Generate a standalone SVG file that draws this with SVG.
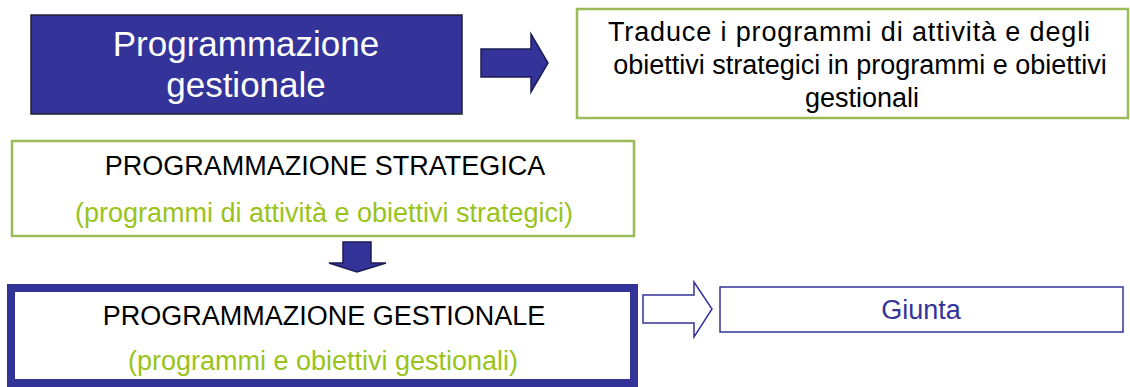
<svg xmlns="http://www.w3.org/2000/svg" width="1130" height="387" viewBox="0 0 1130 387">
<style>
text{font-family:"Liberation Sans",Arial,sans-serif;text-anchor:middle}
.body{font-size:27px}
.blk{fill:#000}
.grn{fill:#99c31a}
.gbox{fill:#fff;stroke:#9bbb59;stroke-width:2.5}
.arrow{fill:#333399;stroke:#1c1c55;stroke-width:1.5;stroke-linejoin:miter}
</style>
<rect width="1130" height="387" fill="#fff"/>
<g id="node-prog-gest-title">
<rect x="31" y="15" width="431" height="99" fill="#333399" stroke="#222233" stroke-width="1.5"/>
<text x="246" y="56" font-size="35" fill="#fff">Programmazione</text>
<text x="246" y="97" font-size="35" fill="#fff">gestionale</text>
</g>
<g id="node-descr">
<rect class="gbox" x="577" y="9" width="551" height="109"/>
<text class="body blk" x="849" y="41" textLength="482">Traduce i programmi di attività e degli</text>
<text class="body blk" x="860" y="74">obiettivi strategici in programmi e obiettivi</text>
<text class="body blk" x="862" y="107">gestionali</text>
</g>
<g id="node-strategica">
<rect class="gbox" x="12" y="141" width="622" height="95"/>
<text class="body blk" x="325" y="175">PROGRAMMAZIONE STRATEGICA</text>
<text class="body grn" x="324" y="222">(programmi di attività e obiettivi strategici)</text>
</g>
<g id="node-gestionale">
<rect x="11" y="288" width="623" height="95" fill="#fff" stroke="#333399" stroke-width="8"/>
<text class="body blk" x="324" y="325">PROGRAMMAZIONE GESTIONALE</text>
<text class="body grn" x="323" y="370">(programmi e obiettivi gestionali)</text>
</g>
<g id="node-giunta">
<rect x="720" y="287" width="403" height="45" fill="#fff" stroke="#333399" stroke-width="1.5"/>
<text class="body" x="921" y="319" fill="#333399">Giunta</text>
</g>
<g id="connectors">
<path class="arrow" d="M481 49 H531 V34 L548 63 L531 92 V77 H481 Z"/>
<path class="arrow" d="M343 242 H371 V263 H386 L357 272 L329 263 H343 Z"/>
<path d="M643 295 H694 V282 L712 309 L694 337 V323 H643 Z" fill="#fff" stroke="#333399" stroke-width="1.5"/>
</g>
</svg>
